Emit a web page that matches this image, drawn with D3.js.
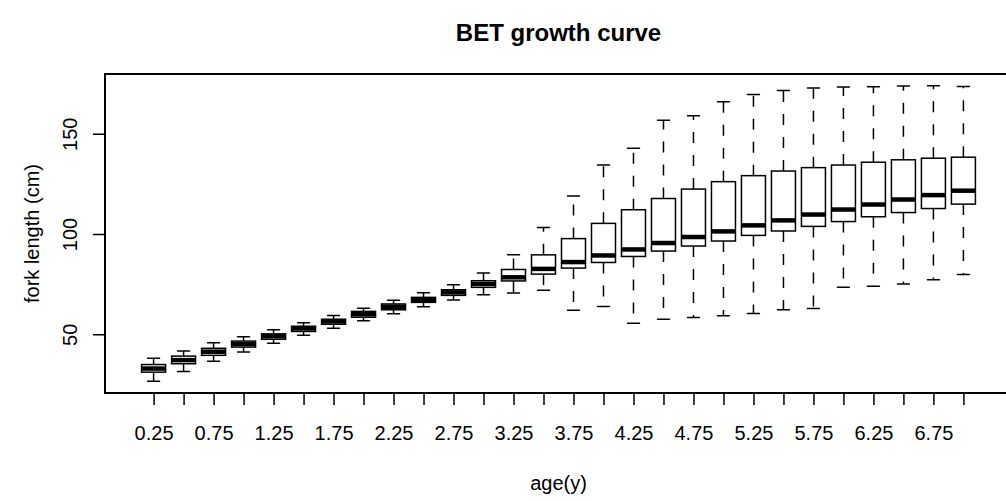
<!DOCTYPE html>
<html>
<head>
<meta charset="utf-8">
<script src="https://cdn.jsdelivr.net/npm/d3@7"></script>
<style>
  body { margin: 0; background: #fff; }
  text { font-family: "Liberation Sans", Arial, sans-serif; fill: #000; }
</style>
</head>
<body>
<svg id="grafico"></svg>
<script>
// edades (grupos) y estadisticas de cada caja
let edades = [0.25, 0.5, 0.75, 1, 1.25, 1.5, 1.75, 2, 2.25, 2.5, 2.75, 3, 3.25, 3.5,
  3.75, 4, 4.25, 4.5, 4.75, 5, 5.25, 5.5, 5.75, 6, 6.25, 6.5, 6.75, 7];
let bigoteInf = [26.6, 31.4, 36.5, 41.1, 45.5, 49.5, 53.0, 56.7, 60.2, 63.7, 67.1, 69.7, 70.6, 71.9,
  62.0, 63.9, 55.5, 57.5, 58.4, 59.2, 60.4, 62.2, 62.9, 73.4, 73.9, 75.1, 77.2, 79.8];
let cuartil1 = [31.1, 35.3, 39.5, 43.6, 47.5, 51.4, 55.0, 58.5, 62.2, 65.9, 69.4, 73.4, 76.6, 80.0,
  83.0, 85.8, 88.8, 91.5, 94.0, 96.5, 99.3, 101.5, 103.8, 106.2, 108.6, 110.7, 112.7, 114.9];
let mediana = [32.9, 37.1, 41.3, 45.1, 49.0, 52.9, 56.4, 60.0, 63.7, 67.2, 70.9, 75.1, 78.4, 82.6,
  86.0, 89.3, 92.3, 95.5, 98.5, 101.3, 104.3, 106.8, 109.7, 112.2, 114.7, 117.2, 119.4, 121.6];
let cuartil3 = [34.9, 39.1, 43.0, 46.6, 50.2, 54.0, 57.5, 61.4, 65.1, 68.4, 72.2, 76.7, 82.3, 89.6,
  97.7, 105.3, 112.1, 117.7, 122.4, 126.1, 129.1, 131.4, 133.1, 134.4, 135.8, 137.0, 137.8, 138.3];
let bigoteSup = [38.1, 41.6, 45.8, 48.8, 52.2, 55.7, 59.4, 63.0, 66.9, 70.7, 74.7, 80.5, 89.6, 103.3,
  118.9, 134.4, 142.8, 156.7, 159.0, 165.9, 169.6, 171.6, 172.8, 173.3, 173.4, 173.8, 173.9, 173.6];
let ticksY = [50, 100, 150];

let titulo = "BET growth curve";
let etiquetaX = "age(y)";
let etiquetaY = "fork length (cm)";

// armar las cajas
let cajas = edades.map((e, i) => ({
  pos: i + 1,
  edad: e,
  lo: bigoteInf[i], q1: cuartil1[i], med: mediana[i], q3: cuartil3[i], hi: bigoteSup[i]
}));

/* ################ CONFIGURACION ################ */
let width = 1006, height = 501;
let margin = { top: 74, bottom: 108, left: 105, right: -6 }; // el marco derecho queda fuera
let bodyWidth = width - margin.left - margin.right;
let bodyHeight = height - margin.top - margin.bottom;

let svg = d3.select("#grafico").attr("width", width).attr("height", height);

// escalas con el 4% de extension de R
let n = cajas.length;
let extX = 0.04 * n;
let xScale = d3.scaleLinear()
  .domain([0.5 - extX, n + 0.5 + extX])
  .range([0, bodyWidth]);

let minY = d3.min(bigoteInf), maxY = d3.max(bigoteSup);
let extY = 0.04 * (maxY - minY);
let yScale = d3.scaleLinear()
  .domain([minY - extY, maxY + extY])
  .range([bodyHeight, 0]);

let body = svg.append("g")
  .attr("transform", `translate(${margin.left}, ${margin.top})`);

/* ################ CAJAS ################ */
let anchoCaja = (xScale(1) - xScale(0)) * 0.8;
let grupos = body.selectAll(".caja").data(cajas).enter().append("g").attr("class", "caja");

// bigotes punteados
grupos.append("line")
  .attr("x1", d => xScale(d.pos)).attr("x2", d => xScale(d.pos))
  .attr("y1", d => yScale(d.q3)).attr("y2", d => yScale(d.hi))
  .attr("stroke", "#000").attr("stroke-width", 1.5).attr("stroke-dasharray", "11,12");
grupos.append("line")
  .attr("x1", d => xScale(d.pos)).attr("x2", d => xScale(d.pos))
  .attr("y1", d => yScale(d.q1)).attr("y2", d => yScale(d.lo))
  .attr("stroke", "#000").attr("stroke-width", 1.5).attr("stroke-dasharray", "11,12");

// topes
["hi", "lo"].forEach(k => {
  grupos.append("line")
    .attr("x1", d => xScale(d.pos) - anchoCaja / 4).attr("x2", d => xScale(d.pos) + anchoCaja / 4)
    .attr("y1", d => yScale(d[k])).attr("y2", d => yScale(d[k]))
    .attr("stroke", "#000").attr("stroke-width", 1.5).attr("stroke-linecap", "round");
});

// caja
grupos.append("rect")
  .attr("x", d => xScale(d.pos) - anchoCaja / 2)
  .attr("width", anchoCaja)
  .attr("y", d => yScale(d.q3))
  .attr("height", d => yScale(d.q1) - yScale(d.q3))
  .attr("fill", "#fff").attr("stroke", "#000").attr("stroke-width", 1.5);

// mediana
grupos.append("line")
  .attr("x1", d => xScale(d.pos) - anchoCaja / 2).attr("x2", d => xScale(d.pos) + anchoCaja / 2)
  .attr("y1", d => yScale(d.med)).attr("y2", d => yScale(d.med))
  .attr("stroke", "#000").attr("stroke-width", 4.5);

/* ################ EJES ################ */
let ejeX = d3.axisBottom(xScale)
  .tickValues(cajas.map(d => d.pos))
  .tickSize(12).tickPadding(21)
  .tickFormat(p => (p % 2 === 1 ? String(edades[p - 1]) : ""));
let gx = body.append("g").attr("transform", `translate(0, ${bodyHeight})`).call(ejeX);
gx.select(".domain").remove();
gx.selectAll("line").attr("stroke-width", 1.5);
gx.selectAll("text").style("font-size", "20px")
  .attr("font-family", "Liberation Sans, Arial, sans-serif");

let ejeY = d3.axisLeft(yScale).tickValues(ticksY).tickSize(12).tickPadding(0);
let gy = body.append("g").call(ejeY);
gy.select(".domain").remove();
gy.selectAll("line").attr("stroke-width", 1.5);
gy.selectAll("text")
  .style("font-size", "20px")
  .attr("font-family", "Liberation Sans, Arial, sans-serif")
  .attr("text-anchor", "middle")
  .attr("x", 0).attr("dy", 0)
  .attr("transform", "translate(-28, 0) rotate(-90)");

// marco
body.append("rect")
  .attr("x", 0).attr("y", 0).attr("width", bodyWidth).attr("height", bodyHeight)
  .attr("fill", "none").attr("stroke", "#000").attr("stroke-width", 2);

/* ################ TEXTOS ################ */
let centroX = margin.left + bodyWidth / 2;
svg.append("text").attr("x", centroX).attr("y", 41)
  .attr("text-anchor", "middle").style("font-size", "24px").style("font-weight", "bold")
  .text(titulo);
svg.append("text").attr("x", centroX).attr("y", 490)
  .attr("text-anchor", "middle").style("font-size", "20px")
  .text(etiquetaX);
svg.append("text")
  .attr("transform", `translate(39, ${margin.top + bodyHeight / 2}) rotate(-90)`)
  .attr("text-anchor", "middle").style("font-size", "20px")
  .text(etiquetaY);
</script>
</body>
</html>
